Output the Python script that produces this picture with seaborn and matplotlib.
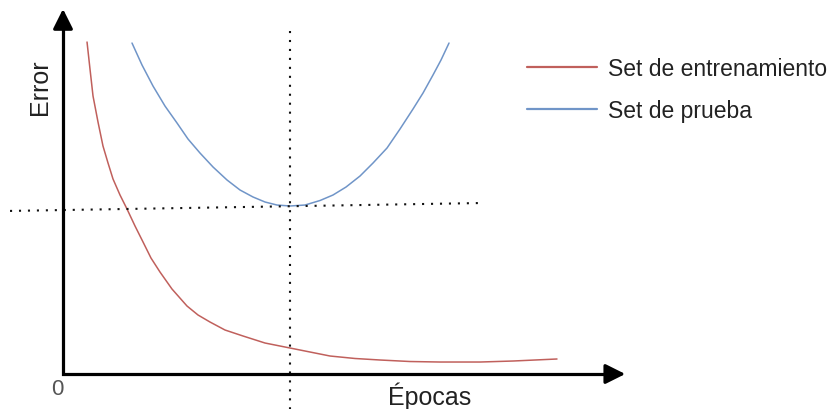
import numpy as np
import pandas as pd
import matplotlib
matplotlib.use('Agg')
import matplotlib.pyplot as plt
import seaborn as sns

# curvas (x = épocas 0..100, y = error 0..100)
train_x = [4.29, 4.82, 5.36, 6.25, 7.14, 8.04, 8.93, 10.18, 11.43, 12.86, 14.29,
           15.71, 17.32, 19.46, 22.14, 24.11, 26.25, 28.93, 32.14, 36.07, 40.54,
           44.11, 47.68, 52.14, 56.61, 61.96, 67.32, 74.46, 80.36, 88.21]
train_y = [92.22, 84.72, 77.22, 70.0, 63.33, 58.61, 54.17, 49.72, 45.83, 41.11, 36.67,
           32.22, 28.33, 23.61, 18.89, 16.39, 14.44, 12.22, 10.56, 8.61, 7.22,
           6.11, 5.0, 4.31, 3.89, 3.47, 3.33, 3.33, 3.61, 4.17]
test_x = [12.32, 14.11, 16.07, 18.21, 20.36, 22.32, 24.46, 26.79, 29.29, 31.61,
          33.93, 36.07, 38.21, 40.54, 43.21, 45.89, 48.21, 50.54, 53.04, 55.36,
          57.86, 60.18, 62.5, 64.29, 66.07, 67.5, 68.93]
test_y = [91.94, 85.83, 80.0, 74.44, 69.72, 65.28, 61.39, 57.5, 53.89, 51.11,
          49.17, 47.78, 46.94, 46.67, 46.94, 48.19, 49.72, 51.94, 55.0, 58.61,
          62.78, 68.06, 73.61, 78.06, 83.06, 87.22, 91.94]
labels = ["Set de entrenamiento", "Set de prueba"]
colors = ["#c0605c", "#7095c8"]

# líneas de referencia punteadas
best_epoch = 40.54
vline_y = [95.3, -9.72]
hline_x = [-9.46, 74.8]
hline_y = [45.3, 47.5]

df = pd.concat([
    pd.DataFrame({"epoca": train_x, "error": train_y, "set": labels[0]}),
    pd.DataFrame({"epoca": test_x, "error": test_y, "set": labels[1]}),
])

sns.set_style("white")
plt.rcParams['font.family'] = ['Liberation Sans', 'DejaVu Sans']

fig = plt.figure(figsize=(8.3, 4.1), dpi=100)
ax = fig.add_axes([0, 0, 1, 1])
ax.set_xlim(-11.25, 136.96)
ax.set_ylim(-9.72, 104.17)
ax.axis("off")

sns.lineplot(data=df, x="epoca", y="error", hue="set", palette=colors,
             sort=False, estimator=None, lw=1.1, ax=ax, legend=True)

ax.plot([best_epoch, best_epoch], vline_y, color="#111111", lw=1.5,
        linestyle=(0, (1, 3.3)), dash_capstyle="butt")
ax.plot(hline_x, hline_y, color="#111111", lw=1.5,
        linestyle=(0, (1, 3.3)), dash_capstyle="butt")

# ejes con flechas
ax.plot([0, 0, 98], [98, 0, 0], color="black", lw=2.3,
        solid_joinstyle="miter", solid_capstyle="butt")
arrow = dict(arrowstyle="-|>,head_length=1.0,head_width=0.5", color="black",
             lw=2.3, mutation_scale=12, shrinkA=0, shrinkB=0)
ax.annotate("", xy=(0, 101.4), xytext=(0, 97.5), arrowprops=arrow)
ax.annotate("", xy=(100.4, 0), xytext=(97.5, 0), arrowprops=arrow)

ax.text(-4.1, 80, "Error", rotation=90, ha="center", va="center",
        fontsize=18, color="#222222")
ax.text(65.5, -6.0, "Épocas", ha="center", va="center",
        fontsize=18, color="#222222")
ax.text(-1.0, -4.0, "0", ha="center", va="center", fontsize=16, color="#555555")

leg = ax.legend(loc="upper left", bbox_to_anchor=(527 / 830, 1 - 58 / 410),
                bbox_transform=fig.transFigure, frameon=False, fontsize=16.5,
                handlelength=3.06, handletextpad=0.48, labelspacing=0.83,
                borderpad=0, borderaxespad=0)
for line in leg.get_lines():
    line.set_linewidth(1.6)
for t in leg.get_texts():
    t.set_color("#222222")

fig.savefig("out.png", dpi=100)
